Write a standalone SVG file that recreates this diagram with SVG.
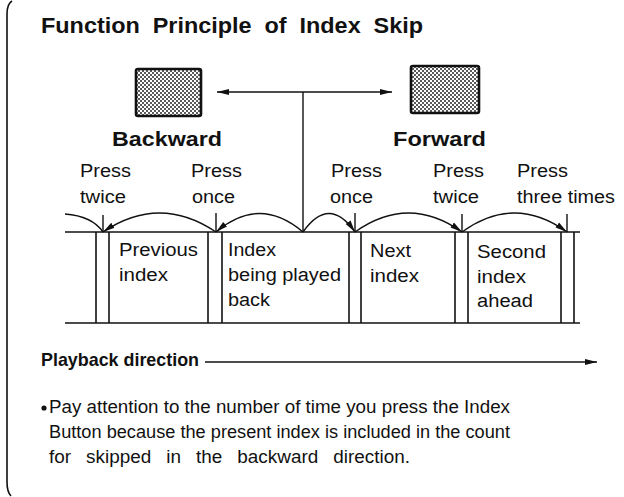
<svg xmlns="http://www.w3.org/2000/svg" width="624" height="497" viewBox="0 0 624 497">
<style>
text{font-family:"Liberation Sans",Arial,Helvetica,sans-serif;fill:#111}
.b{font-weight:bold}
.t{font-size:18px}
.p{font-size:17.5px}
.ln{stroke:#111;stroke-width:1.4;fill:none}
.tape{stroke:#111;stroke-width:1.6;fill:none}
.btn{fill:url(#dots);stroke:#111;stroke-width:2.6}
</style>
<defs>
<pattern id="dots" width="4" height="4" patternUnits="userSpaceOnUse">
<rect width="4" height="4" fill="#fff"/>
<circle cx="1" cy="1" r="1" fill="#222"/>
<circle cx="3" cy="3" r="1" fill="#222"/>
</pattern>
<marker id="ah" viewBox="0 0 12 8" refX="12" refY="4" markerWidth="12" markerHeight="8" markerUnits="userSpaceOnUse" orient="auto">
<path d="M0,1 L12,4 L0,7 Z" fill="#111"/>
</marker>
<marker id="ahs" viewBox="0 0 12 8" refX="0" refY="4" markerWidth="12" markerHeight="8" markerUnits="userSpaceOnUse" orient="auto">
<path d="M12,1 L0,4 L12,7 Z" fill="#111"/>
</marker>
</defs>
<rect width="624" height="497" fill="#fff"/>
<path id="frame" d="M12,1 Q7,4 7,14 L7,482 Q7,492 11,496" fill="none" stroke="#111" stroke-width="1.6"/>

<g id="title"><text class="b" x="41" y="33" font-size="22" word-spacing="6" textLength="382" lengthAdjust="spacingAndGlyphs">Function Principle of Index Skip</text></g>

<g id="backward-button">
<rect class="btn" x="136" y="69" width="65" height="47" rx="2"/>
<text class="b" x="112" y="146" font-size="21" textLength="110" lengthAdjust="spacingAndGlyphs">Backward</text>
</g>
<g id="forward-button">
<rect class="btn" x="411" y="66" width="68" height="47" rx="2"/>
<text class="b" x="393" y="146" font-size="21" textLength="93" lengthAdjust="spacingAndGlyphs">Forward</text>
</g>

<g id="press-labels" class="t">
<text x="80" y="177" textLength="51" lengthAdjust="spacingAndGlyphs">Press</text>
<text x="80" y="203" textLength="46" lengthAdjust="spacingAndGlyphs">twice</text>
<text x="191" y="177" textLength="51" lengthAdjust="spacingAndGlyphs">Press</text>
<text x="192" y="203" textLength="43" lengthAdjust="spacingAndGlyphs">once</text>
<text x="331" y="177" textLength="51" lengthAdjust="spacingAndGlyphs">Press</text>
<text x="330" y="203" textLength="43" lengthAdjust="spacingAndGlyphs">once</text>
<text x="433" y="177" textLength="51" lengthAdjust="spacingAndGlyphs">Press</text>
<text x="433" y="203" textLength="46" lengthAdjust="spacingAndGlyphs">twice</text>
<text x="517" y="177" textLength="51" lengthAdjust="spacingAndGlyphs">Press</text>
<text x="517" y="203" textLength="98" lengthAdjust="spacingAndGlyphs">three times</text>
</g>

<g id="tape">
<line class="tape" x1="65" y1="232" x2="580" y2="232"/>
<line class="tape" x1="65" y1="323" x2="580" y2="323"/>
<line class="tape" x1="96" y1="232" x2="96" y2="323"/>
<line class="tape" x1="109" y1="232" x2="109" y2="323"/>
<line class="tape" x1="208" y1="232" x2="208" y2="323"/>
<line class="tape" x1="222" y1="232" x2="222" y2="323"/>
<line class="tape" x1="349" y1="232" x2="349" y2="323"/>
<line class="tape" x1="361" y1="232" x2="361" y2="323"/>
<line class="tape" x1="455" y1="232" x2="455" y2="323"/>
<line class="tape" x1="468" y1="232" x2="468" y2="323"/>
<line class="tape" x1="561" y1="232" x2="561" y2="323"/>
<line class="tape" x1="574" y1="232" x2="574" y2="323"/>
</g>

<g id="index-previous" class="t">
<text x="119" y="256" textLength="79" lengthAdjust="spacingAndGlyphs">Previous</text>
<text x="119" y="281" textLength="49" lengthAdjust="spacingAndGlyphs">index</text>
</g>
<g id="index-current" class="t">
<text x="228" y="256" textLength="48" lengthAdjust="spacingAndGlyphs">Index</text>
<text x="228" y="281" textLength="113" lengthAdjust="spacingAndGlyphs">being played</text>
<text x="228" y="306" textLength="42" lengthAdjust="spacingAndGlyphs">back</text>
</g>
<g id="index-next" class="t">
<text x="370" y="257" textLength="41" lengthAdjust="spacingAndGlyphs">Next</text>
<text x="370" y="282" textLength="49" lengthAdjust="spacingAndGlyphs">index</text>
</g>
<g id="index-second" class="t">
<text x="477" y="258" textLength="69" lengthAdjust="spacingAndGlyphs">Second</text>
<text x="477" y="283" textLength="49" lengthAdjust="spacingAndGlyphs">index</text>
<text x="477" y="307" textLength="56" lengthAdjust="spacingAndGlyphs">ahead</text>
</g>

<g id="connectors">
<line class="ln" x1="303" y1="92" x2="303" y2="232"/>
<line class="ln" x1="217" y1="92" x2="392" y2="92" marker-start="url(#ahs)" marker-end="url(#ah)"/>
<path class="ln" d="M303,232 Q259.5,195 216,232" marker-end="url(#ah)"/>
<path class="ln" d="M216,232 Q159.5,194 103,232" marker-end="url(#ah)"/>
<path class="ln" d="M65,214 Q92,216 103,232"/>
<path class="ln" d="M303,232 Q329,195 355,232" marker-end="url(#ah)"/>
<path class="ln" d="M355,232 Q408.5,194 462,232" marker-end="url(#ah)"/>
<path class="ln" d="M462,232 Q514.5,194 567,232" marker-end="url(#ah)"/>
<line class="ln" x1="103" y1="215" x2="103" y2="232"/>
<line class="ln" x1="216" y1="213" x2="216" y2="232"/>
<line class="ln" x1="355" y1="213" x2="355" y2="232"/>
<line class="ln" x1="462" y1="214" x2="462" y2="232"/>
<line class="ln" x1="567" y1="214" x2="567" y2="232"/>
<line class="ln" x1="205" y1="362" x2="597" y2="362" marker-end="url(#ah)"/>
</g>

<g id="playback-label"><text class="b" x="41" y="366" font-size="19" textLength="158" lengthAdjust="spacingAndGlyphs">Playback direction</text></g>

<g id="note" class="p">
<circle cx="44" cy="408" r="2.6" fill="#111"/>
<text x="49" y="413" textLength="461" lengthAdjust="spacingAndGlyphs">Pay attention to the number of time you press the Index</text>
<text x="49" y="438" textLength="461" lengthAdjust="spacingAndGlyphs">Button because the present index is included in the count</text>
<text x="49" y="463" textLength="361" lengthAdjust="spacingAndGlyphs" word-spacing="9">for skipped in the backward direction.</text>
</g>
</svg>
